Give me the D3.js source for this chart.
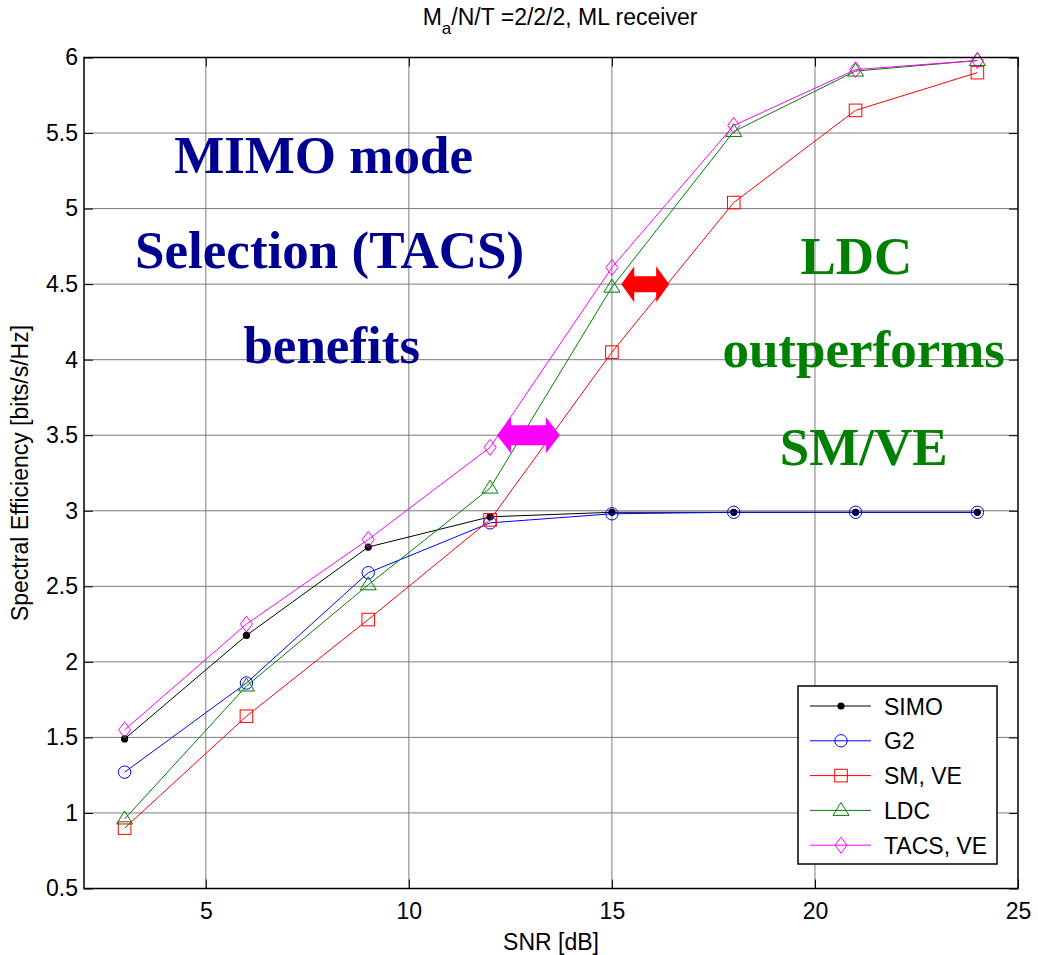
<!DOCTYPE html>
<html><head><meta charset="utf-8">
<script src="https://cdn.jsdelivr.net/npm/d3@7"></script>
<style>body{margin:0;background:#fff}svg{display:block}</style>
</head><body><svg id="c" width="1038" height="955"></svg>
<script>
// ---- data ----
const snr = [3, 6, 9, 12, 15, 18, 21, 24];
const simo = [1.49, 2.175, 2.76, 2.96, 2.99, 2.99, 2.99, 2.99];
const g2 = [1.27, 1.86, 2.59, 2.92, 2.98, 2.99, 2.99, 2.99];
const smve = [0.90, 1.64, 2.28, 2.94, 4.05, 5.04, 5.65, 5.90];
const ldc = [0.96, 1.84, 2.51, 3.15, 4.48, 5.51, 5.91, 5.98];
const tacs = [1.55, 2.25, 2.81, 3.42, 4.61, 5.55, 5.92, 5.98];
const seriesNames = ["SIMO", "G2", "SM, VE", "LDC", "TACS, VE"];
const xTicks = [5, 10, 15, 20, 25];
const yTicks = [0.5, 1, 1.5, 2, 2.5, 3, 3.5, 4, 4.5, 5, 5.5, 6];
const titleMain = "M", titleSub = "a", titleRest = "/N/T =2/2/2, ML receiver";
const xLabel = "SNR [dB]";
const yLabel = "Spectral Efficiency [bits/s/Hz]";
const blueNote = ["MIMO mode", "Selection (TACS)", "benefits"];
const greenNote = ["LDC", "outperforms", "SM/VE"];
// double arrows: [x0, x1, y]
const arrowMagenta = [12.17, 13.72, 3.5];
const arrowRed = [15.23, 16.41, 4.5];

// ---- layout ----
const L = 84, R = 1018, T = 57.5, B = 888.5;
const svg = d3.select("#c");
const x = d3.scaleLinear().domain([2, 25]).range([L, R]);
const y = d3.scaleLinear().domain([0.5, 6]).range([B, T]);
const font = "'Liberation Sans', Arial, Helvetica, sans-serif";
const serif = "'Liberation Serif', 'Times New Roman', serif";

// grid
const g = svg.append("g");
g.selectAll("line.gx").data(xTicks.filter(d => d < 25)).join("line")
  .attr("x1", d => x(d)).attr("x2", d => x(d)).attr("y1", T).attr("y2", B)
  .attr("stroke", "#7c7c7c").attr("stroke-width", 1);
g.selectAll("line.gy").data(yTicks.filter(d => d > 0.5 && d < 6)).join("line")
  .attr("x1", L).attr("x2", R).attr("y1", d => y(d)).attr("y2", d => y(d))
  .attr("stroke", "#7c7c7c").attr("stroke-width", 1);

// axes (inward ticks on all sides)
function styleAxis(sel) {
  sel.select(".domain").remove();
  sel.selectAll(".tick line").attr("stroke", "#000").attr("stroke-width", 1);
  sel.selectAll("text").attr("font-family", font).attr("font-size", 23).attr("fill", "#000");
}
svg.append("g").attr("transform", `translate(0,${B})`)
  .call(d3.axisBottom(x).tickValues(xTicks).tickSize(-9).tickPadding(14).tickFormat(d3.format("d")))
  .call(styleAxis);
svg.append("g").attr("transform", `translate(0,${T})`)
  .call(d3.axisTop(x).tickValues(xTicks).tickSize(-9).tickFormat(""))
  .call(styleAxis);
svg.append("g").attr("transform", `translate(${L},0)`)
  .call(d3.axisLeft(y).tickValues(yTicks).tickSize(-9).tickPadding(6).tickFormat(d => d3.format("")(d)))
  .call(styleAxis);
svg.append("g").attr("transform", `translate(${R},0)`)
  .call(d3.axisRight(y).tickValues(yTicks).tickSize(-9).tickFormat(""))
  .call(styleAxis);

// annotations text
const bt = svg.append("g").attr("font-family", serif).attr("font-weight", "bold")
  .attr("font-size", 53).attr("text-anchor", "middle");
const blueAt = [[7.9, 5.235], [8.05, 4.61], [8.1, 3.98]];
bt.selectAll("text.b").data(blueNote).join("text")
  .attr("x", (d, i) => x(blueAt[i][0])).attr("y", (d, i) => y(blueAt[i][1]))
  .attr("fill", "#000090").text(d => d);
const greenAt = [[21.02, 4.57], [21.2, 3.95], [21.2, 3.30]];
bt.selectAll("text.g").data(greenNote).join("text")
  .attr("x", (d, i) => x(greenAt[i][0])).attr("y", (d, i) => y(greenAt[i][1]))
  .attr("fill", "#008000").text(d => d);

// series
const series = [
  { name: seriesNames[0], vals: simo, color: "#000000", marker: "dot" },
  { name: seriesNames[1], vals: g2, color: "#0000ff", marker: "circle" },
  { name: seriesNames[2], vals: smve, color: "#ff0000", marker: "square" },
  { name: seriesNames[3], vals: ldc, color: "#008000", marker: "triangle" },
  { name: seriesNames[4], vals: tacs, color: "#ff00ff", marker: "diamond" }
];
const line = d3.line().x(d => x(d[0])).y(d => y(d[1]));
function drawMarker(sel, type, color) {
  if (type === "dot") sel.append("circle").attr("r", 3.6).attr("fill", color);
  else if (type === "circle") sel.append("circle").attr("r", 6.2).attr("fill", "none").attr("stroke", color).attr("stroke-width", 1);
  else if (type === "square") sel.append("rect").attr("x", -6.3).attr("y", -6.3).attr("width", 12.6).attr("height", 12.6).attr("fill", "none").attr("stroke", color).attr("stroke-width", 1);
  else if (type === "triangle") sel.append("path").attr("d", "M0,-8 L8,5 L-8,5 Z").attr("fill", "none").attr("stroke", color).attr("stroke-width", 1);
  else if (type === "diamond") sel.append("path").attr("d", "M0,-8 L6,0 L0,8 L-6,0 Z").attr("fill", "none").attr("stroke", color).attr("stroke-width", 1);
}
series.forEach(s => {
  const pts = snr.map((v, i) => [v, s.vals[i]]);
  svg.append("path").attr("d", line(pts)).attr("fill", "none").attr("stroke", s.color).attr("stroke-width", 1);
  pts.forEach(p => {
    const m = svg.append("g").attr("transform", `translate(${x(p[0])},${y(p[1])})`);
    drawMarker(m, s.marker, s.color);
  });
});

// double arrows
function dblArrow(a, color, shaftH, headH, headL) {
  const x0 = x(a[0]), x1 = x(a[1]), yc = y(a[2]);
  const p = [
    [x0, yc], [x0 + headL, yc - headH], [x0 + headL, yc - shaftH], [x1 - headL, yc - shaftH],
    [x1 - headL, yc - headH], [x1, yc], [x1 - headL, yc + headH], [x1 - headL, yc + shaftH],
    [x0 + headL, yc + shaftH], [x0 + headL, yc + headH]
  ];
  svg.append("path").attr("d", "M" + p.map(q => q.join(",")).join("L") + "Z").attr("fill", color);
}
dblArrow(arrowMagenta, "#ff00ff", 10, 18, 14);
dblArrow(arrowRed, "#ff0000", 8, 18, 13);

// frame
svg.append("rect").attr("x", L).attr("y", T).attr("width", R - L).attr("height", B - T)
  .attr("fill", "none").attr("stroke", "#000").attr("stroke-width", 1.5);

// legend
const lg = svg.append("g");
lg.append("rect").attr("x", 798).attr("y", 686).attr("width", 199).attr("height", 178)
  .attr("fill", "#fff").attr("stroke", "#000").attr("stroke-width", 1.5);
series.forEach((s, i) => {
  const yy = 706 + i * 34.8;
  lg.append("line").attr("x1", 810).attr("x2", 871).attr("y1", yy).attr("y2", yy).attr("stroke", s.color).attr("stroke-width", 1);
  drawMarker(lg.append("g").attr("transform", `translate(841,${yy})`), s.marker, s.color);
  lg.append("text").attr("x", 884).attr("y", yy + 8.5).attr("font-family", font).attr("font-size", 23).text(s.name);
});

// title & labels
const t = svg.append("text").attr("x", 560).attr("y", 25).attr("text-anchor", "middle")
  .attr("font-family", font).attr("font-size", 23);
t.append("tspan").text(titleMain);
t.append("tspan").attr("dy", 9).attr("font-size", 17).text(titleSub);
t.append("tspan").attr("dy", -9).text(titleRest);
svg.append("text").attr("x", (L + R) / 2).attr("y", 950).attr("text-anchor", "middle")
  .attr("font-family", font).attr("font-size", 23).text(xLabel);
svg.append("text").attr("transform", `translate(28,${(T + B) / 2}) rotate(-90)`).attr("text-anchor", "middle")
  .attr("font-family", font).attr("font-size", 23).text(yLabel);
</script></body></html>
